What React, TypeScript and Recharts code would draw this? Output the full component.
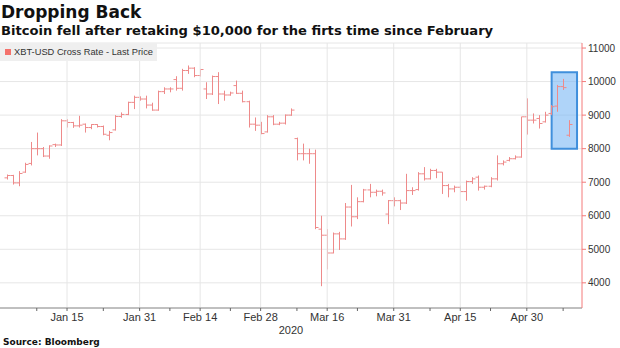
import {
  ComposedChart,
  Bar,
  XAxis,
  YAxis,
  CartesianGrid,
  ReferenceLine,
  ReferenceArea,
} from 'recharts';

// trading days (weekdays) Jan 1 - May 12, 2020
const dates = [
  'Jan 1', 'Jan 2', 'Jan 3', 'Jan 6', 'Jan 7', 'Jan 8', 'Jan 9', 'Jan 10', 'Jan 13', 'Jan 14',
  'Jan 15', 'Jan 16', 'Jan 17', 'Jan 20', 'Jan 21', 'Jan 22', 'Jan 23', 'Jan 24', 'Jan 27', 'Jan 28',
  'Jan 29', 'Jan 30', 'Jan 31', 'Feb 3', 'Feb 4', 'Feb 5', 'Feb 6', 'Feb 7', 'Feb 10', 'Feb 11',
  'Feb 12', 'Feb 13', 'Feb 14', 'Feb 17', 'Feb 18', 'Feb 19', 'Feb 20', 'Feb 21', 'Feb 24', 'Feb 25',
  'Feb 26', 'Feb 27', 'Feb 28', 'Mar 2', 'Mar 3', 'Mar 4', 'Mar 5', 'Mar 6', 'Mar 9', 'Mar 10',
  'Mar 11', 'Mar 12', 'Mar 13', 'Mar 16', 'Mar 17', 'Mar 18', 'Mar 19', 'Mar 20', 'Mar 23', 'Mar 24',
  'Mar 25', 'Mar 26', 'Mar 27', 'Mar 30', 'Mar 31', 'Apr 1', 'Apr 2', 'Apr 3', 'Apr 6', 'Apr 7',
  'Apr 8', 'Apr 9', 'Apr 10', 'Apr 13', 'Apr 14', 'Apr 15', 'Apr 16', 'Apr 17', 'Apr 20', 'Apr 21',
  'Apr 22', 'Apr 23', 'Apr 24', 'Apr 27', 'Apr 28', 'Apr 29', 'Apr 30', 'May 1', 'May 4', 'May 5',
  'May 6', 'May 7', 'May 8', 'May 11', 'May 12',
];

const opens = [
  7130, 7200, 6980, 7300, 7560, 8000, 8000, 7780, 8120, 8110,
  8830, 8780, 8680, 8730, 8630, 8720, 8660, 8400, 8560, 8960,
  9020, 9380, 9530, 9480, 9300, 9150, 9700, 9780, 10060, 9800,
  10330, 10400, 10180, 9780, 9630, 10150, 9630, 9600, 9880, 9650,
  9400, 8730, 8700, 8500, 8950, 8730, 8760, 9000, 8300, 7850,
  7850, 7850, 5600, 5420, 4890, 5460, 5310, 6260, 5970, 6420,
  6770, 6700, 6730, 6050, 6450, 6450, 6380, 6750, 6780, 7250,
  7100, 7350, 7300, 6900, 6800, 6850, 6720, 7020, 7150, 6850,
  6880, 7100, 7550, 7650, 7700, 7750, 8950, 8850, 8900, 8800,
  9050, 9270, 9850, 8400,
];
const highs = [
  7230, 7220, 7330, 7580, 8200, 8480, 8050, 8100, 8150, 8880,
  8880, 8800, 8980, 8750, 8730, 8730, 8690, 8530, 9000, 9080,
  9400, 9580, 9560, 9580, 9370, 9730, 9830, 9830, 10160, 10380,
  10480, 10430, 10380, 9980, 10180, 10280, 9730, 9700, 10030, 9730,
  9430, 8930, 8800, 9000, 9000, 8800, 9020, 9200, 8330, 8150,
  8000, 7970, 6000, 5600, 5500, 5520, 6380, 6920, 6550, 6800,
  6950, 6780, 6780, 6470, 6550, 6480, 7250, 6850, 7300, 7450,
  7400, 7400, 7300, 6950, 6900, 6900, 7050, 7150, 7200, 6900,
  7150, 7800, 7650, 7750, 7800, 8950, 9500, 9050, 9000, 9100,
  9300, 9900, 10080, 8850,
];
const lows = [
  7080, 6930, 6880, 7280, 7500, 7800, 7750, 7700, 8050, 8080,
  8630, 8620, 8630, 8480, 8580, 8630, 8400, 8250, 8540, 8920,
  9000, 9180, 9430, 9200, 9130, 9130, 9630, 9680, 9730, 9730,
  10230, 10130, 10150, 9480, 9600, 9330, 9430, 9580, 9630, 9380,
  8630, 8530, 8430, 8480, 8700, 8700, 8720, 8980, 7650, 7650,
  7550, 5600, 3900, 4400, 4880, 4980, 5280, 5680, 5900, 6400,
  6550, 6580, 6600, 5750, 6280, 6170, 6350, 6620, 6750, 7050,
  7080, 7120, 6650, 6550, 6700, 6700, 6450, 6950, 6750, 6780,
  6850, 7050, 7500, 7620, 7680, 7730, 8420, 8750, 8600, 8780,
  9000, 9100, 9750, 8350,
];
const closes = [
  7200, 6980, 7260, 7530, 8000, 8000, 7780, 8080, 8110, 8830,
  8780, 8680, 8700, 8630, 8720, 8660, 8430, 8480, 8960, 9020,
  9380, 9530, 9480, 9300, 9150, 9700, 9780, 9780, 9800, 10330,
  10400, 10180, 10360, 9630, 10150, 9630, 9600, 9660, 9650, 9400,
  8730, 8700, 8450, 8950, 8730, 8760, 9000, 9150, 7850, 7850,
  7850, 5650, 5420, 4890, 5460, 5310, 6260, 5970, 6420, 6770,
  6700, 6730, 6680, 6450, 6450, 6380, 6750, 6750, 7250, 7100,
  7350, 7300, 6900, 6800, 6850, 6720, 7020, 7100, 6850, 6880,
  7100, 7550, 7600, 7700, 7750, 8950, 8850, 8850, 8750, 9000,
  9250, 9850, 9820, 8720,
];

const majorTicks = ['Jan 15', 'Jan 31', 'Feb 14', 'Feb 28', 'Mar 16', 'Mar 31', 'Apr 15', 'Apr 30'];
const minorTicks = ['Jan 8', 'Jan 23', 'Feb 7', 'Feb 21', 'Mar 9', 'Mar 23', 'Apr 8', 'Apr 22', 'May 8'];
const yTicks = [4000, 5000, 6000, 7000, 8000, 9000, 10000, 11000];

const rows = dates.map((date, i) => ({
  date,
  i,
  open: opens[i],
  high: highs[i],
  low: lows[i],
  close: closes[i],
  range: highs[i] != null ? [lows[i], highs[i]] : null,
}));

const allTicks = dates.filter((d) => majorTicks.includes(d) || minorTicks.includes(d));

const RED = '#ee8a8a';

function OhlcShape(props: any) {
  const { x, y, width, height, payload } = props;
  if (!payload || payload.high == null) return null;
  const top = Math.min(y, y + height);
  const h = Math.abs(height);
  const span = payload.high - payload.low || 1;
  const py = (v: number) => top + ((payload.high - v) / span) * h;
  const cx = Math.round(x + width / 2) + 0.5;
  return (
    <g stroke={RED} strokeWidth={1}>
      <line x1={cx} x2={cx} y1={top} y2={top + h} />
      <line x1={cx - 3} x2={cx} y1={py(payload.open)} y2={py(payload.open)} />
      <line x1={cx} x2={cx + 3} y1={py(payload.close)} y2={py(payload.close)} />
    </g>
  );
}

export default function App() {
  return (
    <div
      style={{
        position: 'absolute',
        left: 0,
        top: 0,
        width: 620,
        height: 348,
        background: '#fff',
        fontFamily: '"Liberation Sans", Arial, sans-serif',
      }}
    >
      <ComposedChart
        width={620}
        height={348}
        data={rows}
        margin={{ top: 43, right: 0, bottom: 0, left: 0 }}
        barCategoryGap={0}
      >
        <CartesianGrid vertical={false} stroke="#e6e6e6" />
        {majorTicks.map((d) => (
          <ReferenceLine key={d} x={d} stroke="#e6e6e6" />
        ))}
        <XAxis
          dataKey="date"
          ticks={allTicks}
          interval={0}
          tickFormatter={(v: string) => (majorTicks.includes(v) ? v : '')}
          height={40}
          padding={{ left: 3.5, right: 3.75 }}
          axisLine={{ stroke: '#8c8c8c' }}
          tickLine={{ stroke: '#666' }}
          tickSize={3}
          tick={{ fill: '#333', fontSize: 11 }}
          label={{ value: '2020', position: 'insideBottom', offset: 14, fill: '#333', fontSize: 11 }}
        />
        <XAxis xAxisId="box" type="number" dataKey="i" domain={[-1.0785, 95.12]} hide allowDataOverflow />
        <YAxis
          orientation="right"
          domain={[3250, 11150]}
          ticks={yTicks}
          interval={0}
          allowDataOverflow
          width={38}
          axisLine={{ stroke: '#f47a7a' }}
          tickLine={{ stroke: '#f47a7a' }}
          tickSize={4}
          tick={{ fill: '#333', fontSize: 10 }}
        />
        <Bar dataKey="range" shape={OhlcShape} isAnimationActive={false} />
        <ReferenceArea
          xAxisId="box"
          x1={90.1}
          x2={94.3}
          y1={8000}
          y2={10280}
          fill="#7ab8f5"
          fillOpacity={0.6}
          stroke="#3f8fdc"
          strokeWidth={2}
        />
      </ComposedChart>

      <div
        style={{
          position: 'absolute',
          left: 0,
          top: 43,
          width: 157,
          height: 18,
          background: '#efefef',
          display: 'flex',
          alignItems: 'center',
          fontSize: 9.3,
          color: '#333',
        }}
      >
        <span style={{ width: 6, height: 6, background: '#f4726c', marginLeft: 5, marginRight: 3 }} />
        XBT-USD Cross Rate - Last Price
      </div>

      <div
        style={{
          position: 'absolute',
          left: 1,
          top: 2,
          fontFamily: '"DejaVu Sans"',
          fontWeight: 700,
          fontSize: 17,
          lineHeight: '20px',
          color: '#111',
          whiteSpace: 'nowrap',
        }}
      >
        Dropping Back
      </div>
      <div
        style={{
          position: 'absolute',
          left: 1,
          top: 22,
          fontFamily: '"DejaVu Sans"',
          fontWeight: 700,
          fontSize: 13.1,
          lineHeight: '18px',
          color: '#111',
          whiteSpace: 'nowrap',
        }}
      >
        Bitcoin fell after retaking $10,000 for the firts time since February
      </div>
      <div
        style={{
          position: 'absolute',
          left: 3,
          top: 336,
          fontFamily: '"DejaVu Sans"',
          fontWeight: 700,
          fontSize: 9,
          lineHeight: '12px',
          color: '#111',
          whiteSpace: 'nowrap',
        }}
      >
        Source: Bloomberg
      </div>
    </div>
  );
}
